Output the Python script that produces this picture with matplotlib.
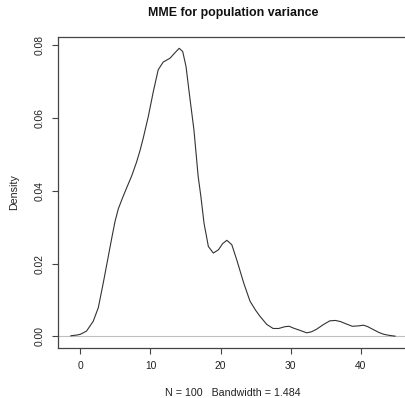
import matplotlib
matplotlib.use("Agg")
import matplotlib.pyplot as plt

# density curve (x, estimated density)
x_vals = [-1.36, -0.5, 0.0, 0.88, 1.83, 2.55, 3.26, 3.98, 4.45, 4.93,
          5.4, 6.0, 6.6, 7.3, 8.0, 8.5, 8.97, 9.69, 10.4, 11.1,
          11.8, 12.8, 13.5, 14.1, 14.6, 15.07, 15.6, 16.2, 16.8, 17.2,
          17.64, 18.26, 18.97, 19.7, 20.3, 20.9, 21.6, 22.3, 23.3, 24.2,
          25.0, 25.6, 26.6, 27.5, 28.3, 29.2, 29.8, 30.4, 31.3, 32.3,
          33.0, 33.7, 34.7, 35.6, 36.4, 37.1, 38.0, 38.8, 39.6, 40.4,
          41.0, 41.8, 42.6, 43.3, 44.1, 44.9]
density = [0.0002, 0.0004, 0.0006, 0.0015, 0.0042, 0.0079, 0.0147, 0.0220, 0.0268, 0.0315,
           0.0350, 0.0380, 0.0408, 0.0440, 0.0478, 0.0510, 0.0545, 0.0604, 0.0672, 0.0732,
           0.0753, 0.0764, 0.0779, 0.0791, 0.0782, 0.0741, 0.0658, 0.0567, 0.0440, 0.0383,
           0.0311, 0.0247, 0.0229, 0.0238, 0.0255, 0.0264, 0.0252, 0.0211, 0.0147, 0.0097,
           0.0072, 0.0056, 0.0033, 0.0022, 0.0022, 0.0027, 0.0028, 0.0023, 0.0017, 0.0010,
           0.0013, 0.0020, 0.0033, 0.0043, 0.0044, 0.0041, 0.0034, 0.0028, 0.0029, 0.0031,
           0.0027, 0.0019, 0.0011, 0.0006, 0.0003, 0.0001]

x_ticks = [0, 10, 20, 30, 40]
y_ticks = [0.00, 0.02, 0.04, 0.06, 0.08]
y_tick_labels = ["0.00", "0.02", "0.04", "0.06", "0.08"]

title = "MME for population variance"
x_label = "N = 100   Bandwidth = 1.484"
y_label = "Density"

plt.rcParams['font.family'] = ['Liberation Sans', 'DejaVu Sans']

W, H = 406, 398
fig = plt.figure(figsize=(W / 100, H / 100), dpi=100)
ax = fig.add_axes([58 / W, 50 / H, 350 / W, 311 / H])

ax.axhline(0, color='#bebebe', linewidth=0.8)
ax.plot(x_vals, density, color='#333333', linewidth=0.8)

ax.set_xlim(-3.2, 46.75)
ax.set_ylim(-0.00316, 0.0822)

ax.set_xticks(x_ticks)
ax.set_yticks(y_ticks)
ax.set_yticklabels(y_tick_labels)
ax.tick_params(axis='both', length=4.5, width=0.8, color='#444444',
               labelsize=7.4, labelcolor='#222222')
ax.tick_params(axis='x', pad=5)
ax.tick_params(axis='y', pad=5)
plt.setp(ax.get_yticklabels(), rotation=90, va='center')

for sp in ax.spines.values():
    sp.set_color('#444444')
    sp.set_linewidth(0.9)

ax.set_xlabel(x_label, fontsize=7.7, color='#222222', va='center')
ax.xaxis.set_label_coords(0.5, (348 - 393) / 311)
ax.set_ylabel(y_label, fontsize=7.7, color='#222222', va='center')
ax.yaxis.set_label_coords((14 - 58) / 350, 0.5)

ax.text(0.5, (348 - 13) / 311, title, transform=ax.transAxes,
        ha='center', va='center', fontsize=8.9, fontweight='bold', color='#111111')

fig.savefig("out.png", dpi=100)
